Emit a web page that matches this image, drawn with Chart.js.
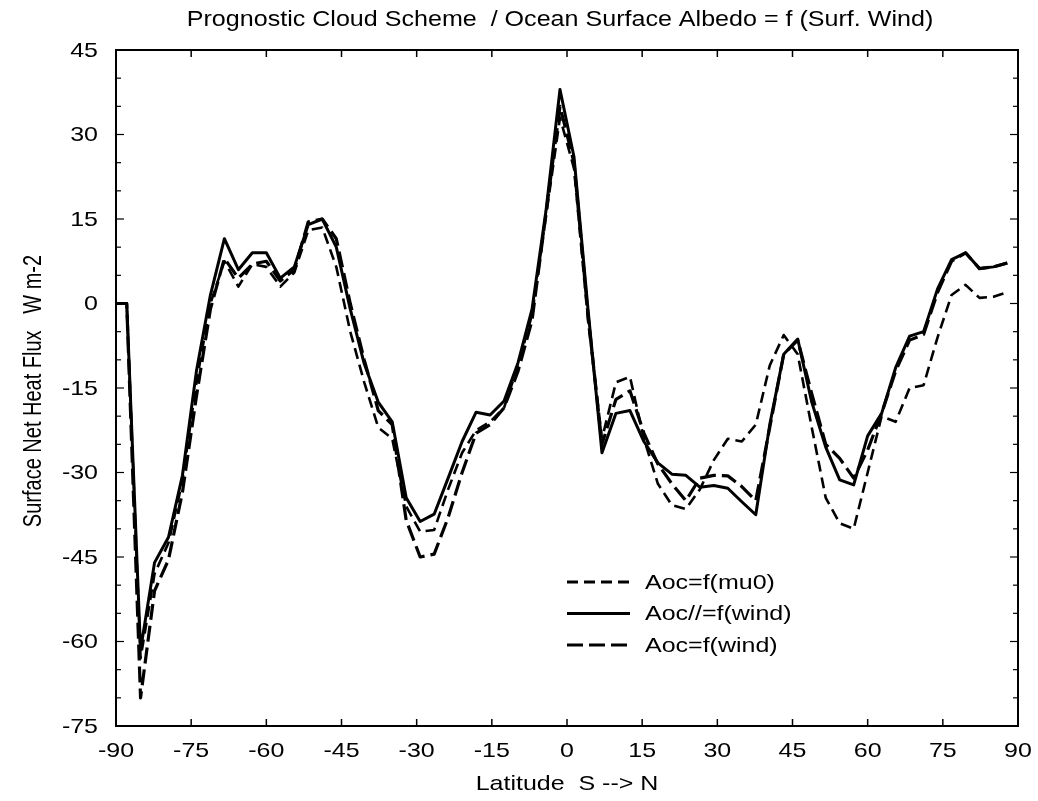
<!DOCTYPE html>
<html>
<head>
<meta charset="utf-8">
<title>Surface Net Heat Flux</title>
<script src="https://cdn.jsdelivr.net/npm/chart.js@4.4.0/dist/chart.umd.min.js"></script>
<style>
  html, body { margin: 0; padding: 0; background: #fff; }
  canvas { display: block; }
</style>
</head>
<body>
<canvas id="flux" width="1038" height="801"></canvas>
<script>
// Latitudes (model grid, deg)
const lats = [-90, -87.86, -85.10, -82.31, -79.53, -76.74, -73.95, -71.16, -68.37, -65.58,
  -62.79, -60.00, -57.21, -54.42, -51.63, -48.84, -46.04, -43.25, -40.46, -37.67,
  -34.88, -32.09, -29.30, -26.51, -23.72, -20.93, -18.14, -15.35, -12.56, -9.77,
  -6.98, -4.19, -1.40, 1.40, 4.19, 6.98, 9.77, 12.56, 15.35, 18.14,
  20.93, 23.72, 26.51, 29.30, 32.09, 34.88, 37.67, 40.46, 43.25, 46.04,
  48.84, 51.63, 54.42, 57.21, 60.00, 62.79, 65.58, 68.37, 71.16, 73.95,
  76.74, 79.53, 82.31, 85.10, 87.86];

// Aoc=f(mu0)  (short dash)
const fluxMu0 = [0, 0, -63, -48, -42.5, -31.5, -14, 0, 7.5, 3,
  7, 6.5, 3, 5.5, 13, 13.5, 6.5, -5, -14, -22,
  -24, -36, -40.5, -40.2, -33, -26.5, -22.5, -21, -18.5, -11,
  -2, 15.5, 33, 24, -3, -24, -14, -13, -24, -32,
  -35.8, -36.5, -33, -27.8, -24, -24.5, -21.5, -11, -5.6, -9,
  -22, -34.5, -39, -40, -30, -20, -21, -15, -14.5, -6,
  1.5, 3.3, 1, 1.2, 2];

// Aoc//=f(wind)  (solid)
const fluxWindPar = [0, 0, -61.5, -46, -41.5, -30.5, -12, 1.5, 11.5, 6,
  9, 9, 4.5, 6.5, 14, 15, 10, -1, -10.7, -17.5,
  -21, -34.5, -38.7, -37.4, -31, -24.5, -19.3, -19.8, -17.3, -10.5,
  -1, 16.5, 38, 26, -1, -26.5, -19.5, -19, -24.5, -28.3,
  -30.3, -30.5, -32.6, -32.3, -32.8, -35.2, -37.5, -21.5, -9, -6.3,
  -17.5, -25.5, -31.3, -32.2, -23.5, -19.5, -11.4, -5.8, -5, 2.6,
  7.8, 9, 6.2, 6.5, 7.2];

// Aoc=f(wind)  (long dash)
const fluxWind = [0, 0, -70, -51, -45.5, -33.5, -16.5, -1, 8, 4.5,
  7, 7.5, 4, 6, 14.5, 15, 11.5, 0, -10, -19,
  -21.5, -38.5, -45, -44.5, -38, -30, -23, -21.5, -18.5, -12,
  -3, 16, 35, 25, -2, -25, -17, -15.5, -23, -28.5,
  -32, -35, -31, -30.5, -30.6, -32.5, -35, -22, -9, -6.5,
  -16, -25, -27.5, -31, -26, -19.5, -12, -6.5, -5.5, 2,
  7.5, 9, 6.2, 6.5, 7.2];

const seriesNames = ['Aoc=f(mu0)', 'Aoc//=f(wind)', 'Aoc=f(wind)'];
const xTicks = [-90, -75, -60, -45, -30, -15, 0, 15, 30, 45, 60, 75, 90];
const yTicks = [45, 30, 15, 0, -15, -30, -45, -60, -75];

const TITLE = 'Prognostic Cloud Scheme  / Ocean Surface Albedo = f (Surf. Wind)';
const X_TITLE = 'Latitude  S --> N';
const Y_TITLE = 'Surface Net Heat Flux   W m-2';

const FONT = "'Liberation Sans', Arial, Helvetica, sans-serif";
const STRETCH = 1.19;   // the scanned figure is wider than tall

function toPoints(vals) {
  return lats.map((lat, i) => ({ x: lat, y: vals[i] }));
}

function wideText(ctx, text, x, y, align, size) {
  ctx.save();
  ctx.font = size + 'px ' + FONT;
  ctx.translate(x, y);
  ctx.scale(STRETCH, 1);
  ctx.textAlign = align;
  ctx.fillText(text, 0, 0);
  ctx.restore();
}

// frame, inward ticks, labels and in-plot legend
const framePlugin = {
  id: 'frame',
  afterDraw(chart) {
    const { ctx, chartArea: a, scales: { x, y } } = chart;
    ctx.save();
    ctx.strokeStyle = '#000';
    ctx.fillStyle = '#000';
    ctx.lineCap = 'butt';

    const seg = (x1, y1, x2, y2, w) => {
      ctx.lineWidth = w;
      ctx.beginPath(); ctx.moveTo(x1, y1); ctx.lineTo(x2, y2); ctx.stroke();
    };

    ctx.lineWidth = 2;
    ctx.strokeRect(a.left, a.top, a.right - a.left, a.bottom - a.top);

    xTicks.forEach(v => {
      const px = x.getPixelForValue(v);
      if (v > x.min && v < x.max) {
        seg(px, a.bottom, px, a.bottom - 7, 1.5);
        seg(px, a.top, px, a.top + 7, 1.5);
      }
      ctx.textBaseline = 'alphabetic';
      wideText(ctx, String(v), px, a.bottom + 31, 'center', 21);
    });

    for (let v = y.min + 5; v < y.max; v += 5) {
      const py = y.getPixelForValue(v);
      const len = v % 15 === 0 ? 8 : 5;
      seg(a.left, py, a.left + len, py, 1.2);
      seg(a.right, py, a.right - len, py, 1.2);
    }
    yTicks.forEach(v => {
      const py = y.getPixelForValue(v);
      ctx.textBaseline = 'middle';
      wideText(ctx, String(v), a.left - 18, py + 1, 'right', 21);
    });

    // titles
    ctx.textBaseline = 'alphabetic';
    ctx.save();
    ctx.font = '22px ' + FONT;
    ctx.translate(a.left + 444, 26);
    ctx.scale(1.14, 1);
    ctx.textAlign = 'center';
    ctx.fillText(TITLE, 0, 0);
    ctx.restore();

    wideText(ctx, X_TITLE, (a.left + a.right) / 2, a.bottom + 64, 'center', 21);

    ctx.save();
    ctx.font = '20px ' + FONT;
    ctx.translate(34, (a.top + a.bottom) / 2 + 3);
    ctx.rotate(-Math.PI / 2);
    ctx.scale(1, 1.25);
    ctx.textAlign = 'center';
    ctx.textBaseline = 'middle';
    ctx.fillText(Y_TITLE, 0, 0);
    ctx.restore();

    // legend
    const lgX = a.left + 451, lgY = a.top + 532, rowH = 31.5;
    chart.data.datasets.forEach((ds, i) => {
      const ly = lgY + i * rowH;
      ctx.save();
      ctx.setLineDash(ds.borderDash || []);
      ctx.lineWidth = 3;
      ctx.beginPath(); ctx.moveTo(lgX, ly); ctx.lineTo(lgX + 63, ly); ctx.stroke();
      ctx.restore();
      ctx.textBaseline = 'middle';
      wideText(ctx, ds.label, lgX + 78, ly + 1, 'left', 21);
    });

    ctx.restore();
  }
};

const datasets = [
  { label: seriesNames[0], data: toPoints(fluxMu0), borderDash: [11, 6], borderWidth: 2.6 },
  { label: seriesNames[1], data: toPoints(fluxWindPar), borderDash: [], borderWidth: 3 },
  { label: seriesNames[2], data: toPoints(fluxWind), borderDash: [16, 6], borderWidth: 3.2 },
].map(d => ({
  ...d,
  borderColor: '#000',
  backgroundColor: '#000',
  borderJoinStyle: 'round',
  pointRadius: 0,
  tension: 0,
  fill: false,
}));

new Chart(document.getElementById('flux'), {
  type: 'line',
  data: { datasets },
  options: {
    responsive: false,
    animation: false,
    layout: { padding: { top: 50, right: 20, left: 0, bottom: 0 } },
    plugins: {
      legend: { display: false },
      tooltip: { enabled: false },
      title: { display: false },
    },
    scales: {
      x: {
        type: 'linear',
        min: -90,
        max: 90,
        ticks: { display: false, stepSize: 15 },
        grid: { display: false },
        border: { display: false },
        afterFit: s => { s.height = 75; },
      },
      y: {
        min: -75,
        max: 45,
        ticks: { display: false, stepSize: 15 },
        grid: { display: false },
        border: { display: false },
        afterFit: s => { s.width = 116; },
      },
    },
  },
  plugins: [framePlugin],
});
</script>
</body>
</html>
